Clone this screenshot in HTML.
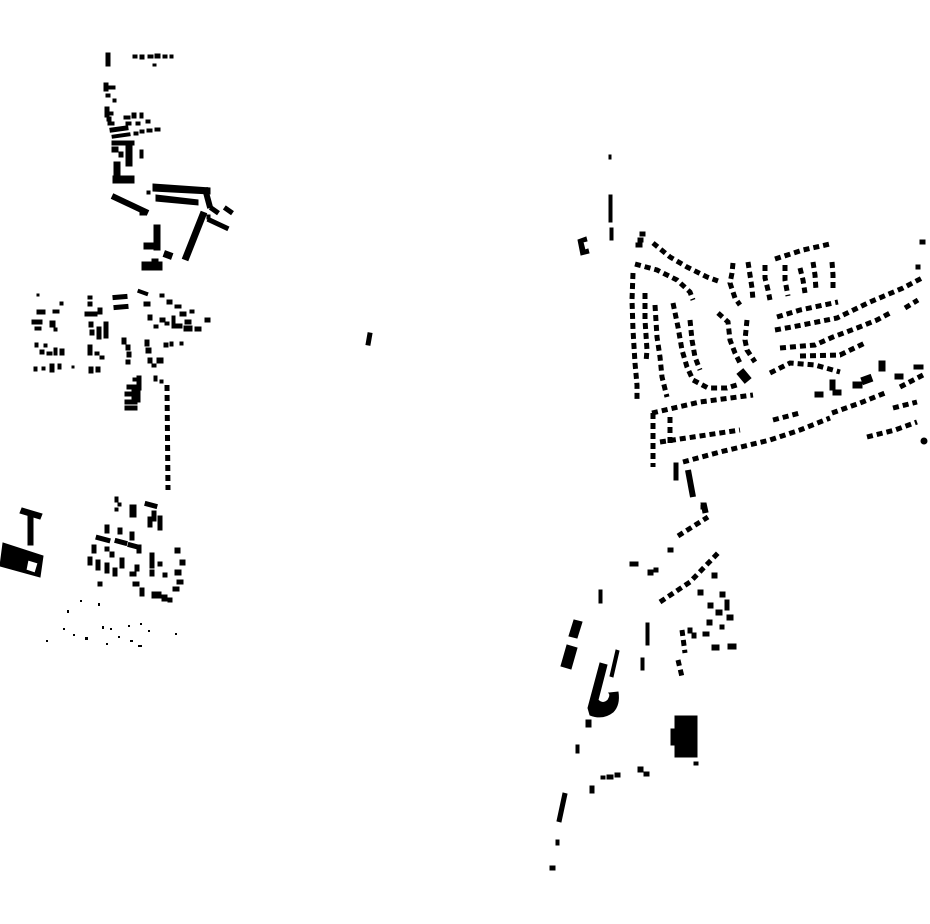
<!DOCTYPE html>
<html><head><meta charset="utf-8"><style>html,body{margin:0;padding:0;background:#fff}svg{display:block}</style></head>
<body>
<svg width="930" height="924" viewBox="0 0 930 924" xmlns="http://www.w3.org/2000/svg">
<g fill="#000" stroke="#000" stroke-width="1">
<!-- top-left cluster -->
<rect x="106" y="53" width="4" height="13"/>
<rect x="133" y="55" width="4" height="3"/><rect x="140" y="55" width="4" height="4"/><rect x="148" y="55" width="5" height="3"/><rect x="155" y="54" width="5" height="4"/><rect x="163" y="55" width="4" height="3"/><rect x="170" y="55" width="3" height="3"/><rect x="153" y="64" width="3" height="2"/>
<rect x="104" y="83" width="4" height="8"/><rect x="108" y="86" width="4" height="3"/><rect x="112" y="86" width="3" height="3"/><rect x="113" y="99" width="3" height="3"/><rect x="106" y="94" width="4" height="3"/>
<rect x="105" y="107" width="4" height="10"/><rect x="107" y="117" width="4" height="4"/><rect x="110" y="112" width="3" height="3"/>
<rect x="124" y="116" width="6" height="3"/><rect x="132" y="113" width="4" height="5"/><rect x="140" y="113" width="3" height="5"/><rect x="146" y="120" width="4" height="3"/><rect x="126" y="122" width="5" height="3"/><rect x="136" y="122" width="4" height="3"/>
<rect x="110" y="127" width="18" height="4" transform="rotate(-8 119 129)"/><rect x="112" y="134" width="18" height="3" transform="rotate(-8 121 135)"/><rect x="108" y="122" width="6" height="3"/>
<rect x="134" y="132" width="4" height="3"/><rect x="140" y="130" width="4" height="3"/><rect x="147" y="129" width="5" height="3"/><rect x="155" y="128" width="5" height="3"/>
<rect x="112" y="147" width="6" height="5"/><rect x="126" y="146" width="6" height="20"/><rect x="114" y="162" width="6" height="14"/><rect x="113" y="176" width="21" height="7"/><rect x="140" y="150" width="3" height="8"/><rect x="112" y="141" width="22" height="4"/><rect x="119" y="152" width="4" height="5"/>
<polygon points="153,184 210,188 210,194 153,191"/><rect x="205" y="188" width="5" height="20" transform="rotate(-15 207 198)"/>
<polygon points="156,195 198,200 198,205 156,201"/><rect x="147" y="191" width="3" height="3"/>
<line x1="112" y1="196" x2="148" y2="213" stroke="#000" stroke-width="6"/><rect x="140" y="212" width="6" height="3"/>
<line x1="204" y1="212" x2="185" y2="260" stroke="#000" stroke-width="7"/>
<rect x="210" y="208" width="9" height="4" transform="rotate(35 214 210)"/><rect x="224" y="208" width="9" height="4" transform="rotate(35 228 210)"/><rect x="207" y="222" width="22" height="4" transform="rotate(25 218 224)"/><rect x="207" y="215" width="3" height="4"/>
<rect x="154" y="225" width="6" height="25"/><rect x="144" y="243" width="16" height="6"/><rect x="164" y="252" width="8" height="6" transform="rotate(20 168 255)"/><rect x="142" y="262" width="20" height="8"/><rect x="152" y="259" width="6" height="4"/>
<!-- middle-left cluster -->
<rect x="37" y="294" width="2" height="2"/><rect x="37" y="310" width="8" height="4"/><rect x="53" y="310" width="6" height="3"/><rect x="60" y="302" width="3" height="3"/><rect x="32" y="320" width="10" height="4"/><rect x="50" y="321" width="5" height="6"/><rect x="35" y="327" width="6" height="3"/><rect x="54" y="328" width="3" height="3"/>
<rect x="35" y="343" width="3" height="4"/><rect x="40" y="350" width="4" height="4"/><rect x="47" y="352" width="5" height="3"/><rect x="54" y="348" width="3" height="7"/><rect x="60" y="349" width="4" height="6"/><rect x="44" y="344" width="3" height="3"/>
<rect x="34" y="367" width="3" height="4"/><rect x="42" y="367" width="3" height="3"/><rect x="50" y="364" width="4" height="8"/><rect x="58" y="364" width="3" height="5"/><rect x="72" y="366" width="2" height="2"/>
<rect x="88" y="296" width="4" height="3"/><rect x="88" y="302" width="4" height="4"/><rect x="85" y="312" width="12" height="4"/><rect x="98" y="308" width="4" height="6"/><rect x="89" y="322" width="4" height="5"/><rect x="90" y="330" width="4" height="5"/><rect x="97" y="327" width="4" height="12"/><rect x="104" y="322" width="4" height="16"/><rect x="88" y="345" width="4" height="10"/><rect x="95" y="352" width="4" height="3"/><rect x="100" y="356" width="4" height="3"/><rect x="89" y="367" width="4" height="6"/><rect x="96" y="367" width="4" height="5"/>
<rect x="113" y="295" width="14" height="4" transform="rotate(-5 120 297)"/><rect x="114" y="305" width="14" height="4" transform="rotate(-5 121 307)"/>
<rect x="138" y="291" width="10" height="3" transform="rotate(20 143 292)"/><rect x="144" y="302" width="6" height="4"/><rect x="160" y="294" width="4" height="3"/><rect x="167" y="300" width="5" height="4"/><rect x="175" y="305" width="6" height="3"/><rect x="180" y="312" width="6" height="4"/><rect x="185" y="320" width="6" height="4"/><rect x="195" y="327" width="6" height="4"/><rect x="205" y="318" width="5" height="4"/><rect x="190" y="310" width="4" height="3"/>
<rect x="148" y="315" width="4" height="5"/><rect x="154" y="325" width="4" height="3"/><rect x="160" y="318" width="5" height="4"/><rect x="165" y="322" width="4" height="3"/><rect x="172" y="316" width="3" height="10"/><rect x="172" y="324" width="10" height="4"/><rect x="184" y="326" width="8" height="5"/>
<rect x="122" y="338" width="4" height="6"/><rect x="126" y="345" width="4" height="5"/><rect x="127" y="352" width="4" height="5"/><rect x="126" y="360" width="4" height="4"/>
<rect x="145" y="340" width="4" height="6"/><rect x="146" y="348" width="5" height="5"/><rect x="148" y="358" width="4" height="5"/><rect x="152" y="364" width="4" height="3"/><rect x="157" y="358" width="6" height="5"/><rect x="164" y="343" width="4" height="4"/><rect x="170" y="342" width="3" height="4"/><rect x="180" y="342" width="3" height="3"/>
<rect x="133" y="378" width="4" height="3"/><rect x="137" y="376" width="4" height="14"/><rect x="127" y="385" width="12" height="4"/><rect x="132" y="388" width="8" height="14"/><rect x="125" y="392" width="10" height="4"/><rect x="125" y="400" width="12" height="4"/><rect x="125" y="406" width="12" height="4"/>
<rect x="154" y="376" width="3" height="5"/><rect x="160" y="380" width="3" height="3"/>
<line x1="167" y1="385" x2="168" y2="490" stroke="#000" stroke-width="5" stroke-dasharray="6 4"/>
<rect x="367" y="333" width="4" height="12" transform="rotate(10 369 339)"/>
<!-- lower-left -->
<polygon points="22,508 42,514 40,519 20,513"/><rect x="28" y="515" width="5" height="30"/>
<path d="M3,543 L43,556 L40,577 L0,566 Z M28,560 L38,563 L35,573 L26,570 Z" fill-rule="evenodd"/>
<rect x="115" y="497" width="3" height="5"/><rect x="118" y="503" width="3" height="3"/><rect x="115" y="508" width="3" height="3"/><rect x="130" y="505" width="6" height="12"/><rect x="145" y="503" width="12" height="4" transform="rotate(15 151 505)"/><rect x="152" y="511" width="4" height="10"/><rect x="158" y="516" width="4" height="14"/><rect x="148" y="517" width="4" height="10"/>
<rect x="105" y="525" width="4" height="8"/><rect x="118" y="528" width="4" height="6"/><rect x="130" y="532" width="4" height="8"/>
<rect x="96" y="537" width="14" height="4" transform="rotate(15 103 539)"/><rect x="115" y="540" width="12" height="4" transform="rotate(15 121 542)"/><rect x="128" y="544" width="12" height="4" transform="rotate(15 134 546)"/><rect x="137" y="545" width="4" height="8"/>
<rect x="92" y="545" width="4" height="8"/><rect x="88" y="557" width="4" height="8"/><rect x="96" y="560" width="4" height="10"/><rect x="105" y="563" width="4" height="10"/><rect x="113" y="568" width="4" height="8"/><rect x="120" y="558" width="4" height="10"/><rect x="105" y="547" width="4" height="4"/><rect x="110" y="552" width="4" height="5"/>
<rect x="135" y="565" width="4" height="6"/><rect x="130" y="572" width="6" height="4"/><rect x="133" y="582" width="6" height="4"/><rect x="140" y="588" width="4" height="8"/>
<rect x="150" y="553" width="4" height="15"/><rect x="158" y="562" width="4" height="4"/><rect x="150" y="570" width="4" height="6"/><rect x="163" y="573" width="4" height="4"/>
<rect x="175" y="548" width="5" height="5"/><rect x="180" y="560" width="5" height="5"/><rect x="175" y="570" width="6" height="5"/><rect x="177" y="580" width="6" height="4"/><rect x="173" y="587" width="6" height="4"/><rect x="168" y="598" width="4" height="4"/>
<rect x="152" y="592" width="9" height="6"/><rect x="162" y="595" width="5" height="6"/><rect x="98" y="582" width="4" height="4"/>
</g>
<g fill="#000">
<rect x="80" y="600" width="2" height="2"/><rect x="98" y="603" width="2" height="3"/><rect x="67" y="610" width="2" height="3"/><rect x="63" y="628" width="2" height="2"/><rect x="73" y="634" width="2" height="2"/><rect x="85" y="637" width="3" height="3"/><rect x="46" y="640" width="2" height="2"/><rect x="102" y="626" width="2" height="3"/><rect x="110" y="628" width="2" height="2"/><rect x="118" y="636" width="2" height="2"/><rect x="128" y="625" width="2" height="2"/><rect x="140" y="623" width="2" height="2"/><rect x="148" y="630" width="2" height="2"/><rect x="130" y="640" width="3" height="2"/><rect x="106" y="643" width="2" height="2"/><rect x="175" y="633" width="2" height="2"/><rect x="138" y="645" width="4" height="2"/>
</g>
<!-- right side -->
<g fill="#000" stroke="#000" stroke-width="1">
<rect x="609" y="155" width="2" height="4"/><rect x="609" y="195" width="3" height="27"/><rect x="610" y="228" width="3" height="12"/>
<polygon points="578,240 586,237 587,241 583,242 585,250 588,249 589,253 581,255"/>
<rect x="640" y="232" width="5" height="4"/><rect x="638" y="238" width="5" height="4"/><rect x="636" y="243" width="6" height="4"/>
</g>
<g stroke="#000" fill="none" stroke-width="5" stroke-dasharray="6 4">
<polyline points="653,243 670,257 687,267 707,277 718,281"/>
<polyline points="635,264 657,270 677,280 690,292 693,300"/>
<polyline points="633,273 632,300 633,330 635,363 637,385 637,400"/>
<polyline points="645,293 645,320 647,350 646,362"/>
<polyline points="655,305 657,337 660,357 662,377 667,397"/>
<polyline points="673,303 678,327 682,350 687,367 693,380 708,388 727,388 740,384"/>
<polyline points="690,320 692,340 695,357 700,370"/>
<polyline points="718,313 728,322 730,340 735,353 740,363"/>
<polyline points="747,320 745,340 747,350 755,362"/>
<polyline points="733,263 732,273 730,283 735,298 740,305"/>
<polyline points="748,262 750,275 752,288 753,300"/>
<polyline points="765,265 765,278 768,290 770,300"/>
<polyline points="785,265 785,280 788,296"/>
<polyline points="800,268 803,280 805,293"/>
<polyline points="813,262 815,275 816,290"/>
<polyline points="832,262 833,275 833,290"/>
<polyline points="775,259 803,250 830,244"/>
<polyline points="777,317 800,310 838,302"/>
<polyline points="775,330 792,327 837,318 870,302 903,288 922,278"/>
<polyline points="780,348 815,345 833,337 857,328 877,320 890,313"/>
<polyline points="800,356 840,355 867,342"/>
<polyline points="770,373 790,363 815,365 840,372"/>
<polyline points="905,308 918,300"/>
<polyline points="900,387 923,375"/>
<polyline points="832,413 860,403 885,393"/>
<polyline points="893,408 917,402"/>
<polyline points="867,437 895,430 917,422"/>
<polyline points="652,413 700,402 753,395"/>
<polyline points="683,462 720,452 770,440 800,430 830,418"/>
<polyline points="660,442 700,436 740,430"/>
<polyline points="653,413 653,467"/>
<polyline points="670,417 670,445"/>
<polyline points="773,420 800,413"/>
<polyline points="678,536 708,517"/>
<polyline points="660,602 690,582 718,553"/>
<polyline points="682,630 685,653"/>
<polyline points="678,660 682,677"/>
</g>
<g fill="#000" stroke="#000" stroke-width="1">
<rect x="740" y="370" width="8" height="12" transform="rotate(-40 744 376)"/>
<rect x="815" y="392" width="8" height="5"/><rect x="833" y="390" width="8" height="5"/><rect x="853" y="382" width="9" height="6"/><rect x="862" y="376" width="10" height="7" transform="rotate(-20 867 380)"/><rect x="879" y="361" width="6" height="10"/><rect x="895" y="374" width="8" height="5"/><rect x="914" y="365" width="9" height="4"/>
<rect x="830" y="380" width="5" height="10"/>
<rect x="920" y="240" width="5" height="4"/><rect x="916" y="265" width="4" height="4"/><rect x="921" y="438" width="6" height="6" rx="3"/>
<rect x="674" y="463" width="4" height="17"/><line x1="688" y1="470" x2="693" y2="497" stroke="#000" stroke-width="6"/><rect x="701" y="505" width="4" height="4"/>
<polygon points="701,503 706,503 708,512 703,513"/>
<rect x="668" y="548" width="5" height="4"/><rect x="630" y="562" width="8" height="4"/><rect x="648" y="570" width="5" height="5"/><rect x="654" y="568" width="4" height="4"/>
<rect x="698" y="590" width="5" height="5"/><rect x="712" y="573" width="5" height="5"/><rect x="720" y="592" width="5" height="5"/>
<rect x="708" y="603" width="5" height="5"/><rect x="716" y="610" width="6" height="5"/><rect x="725" y="600" width="4" height="10"/><rect x="727" y="615" width="6" height="5"/><rect x="707" y="620" width="5" height="5"/><rect x="720" y="625" width="4" height="4"/><rect x="703" y="632" width="6" height="4"/><rect x="712" y="645" width="7" height="5"/><rect x="728" y="644" width="8" height="5"/><rect x="692" y="633" width="4" height="5"/><rect x="688" y="628" width="4" height="5"/>
<rect x="646" y="623" width="3" height="22"/><rect x="641" y="658" width="3" height="12"/>
<rect x="599" y="590" width="3" height="13"/>
<polygon points="574,620 582,622 577,638 569,636"/><polygon points="567,645 577,648 571,669 561,666"/>
<polygon points="616,650 619,651 613,677 610,676"/>
<path d="M600,663 L607,665 L598,700 Q603,705 608,700 Q611,695 609,693 L618,692 Q620,705 613,712 Q603,720 590,715 L588,708 Z"/>
<rect x="586" y="720" width="5" height="7"/><rect x="576" y="745" width="3" height="8"/>
<rect x="675" y="716" width="22" height="41"/><rect x="671" y="729" width="6" height="16"/><rect x="694" y="762" width="4" height="3"/>
<rect x="601" y="776" width="4" height="3"/><rect x="607" y="775" width="6" height="4"/><rect x="615" y="773" width="5" height="4"/><rect x="638" y="767" width="5" height="5"/><rect x="644" y="772" width="5" height="4"/>
<rect x="590" y="786" width="4" height="7"/>
<polygon points="563,793 567,794 561,822 557,821"/><rect x="556" y="840" width="3" height="5"/><rect x="550" y="866" width="5" height="4"/>
</g>
</svg>
</body></html>
